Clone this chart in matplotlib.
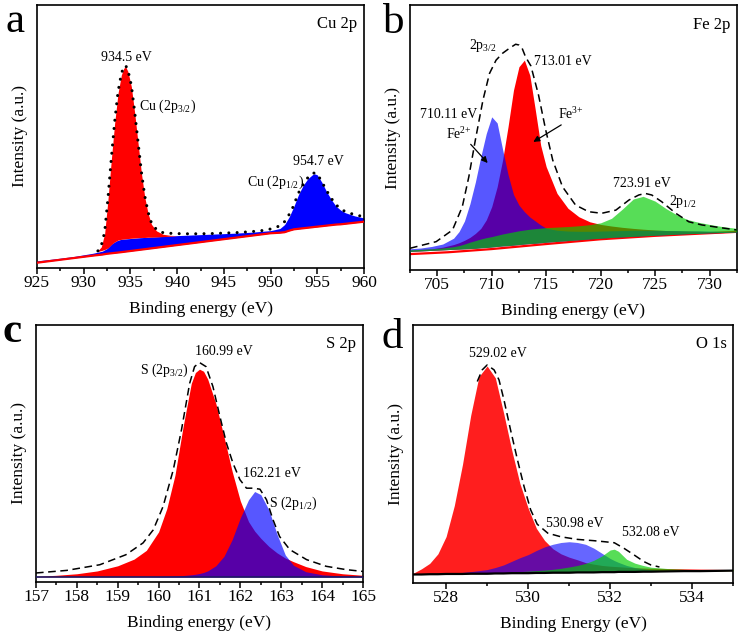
import matplotlib
matplotlib.use("Agg")
import matplotlib.pyplot as plt
from matplotlib.ticker import MultipleLocator

plt.rcParams.update({
    "font.family": ["Liberation Serif", "DejaVu Serif"],
    "mathtext.fontset": "custom",
    "mathtext.rm": "Liberation Serif",
    "mathtext.it": "Liberation Serif:italic",
    "axes.linewidth": 1.2,
})

# ---- (a) Cu 2p ----
a_x = [925, 927, 929, 931, 932, 932.5, 933, 933.5, 934, 936, 938, 940, 942, 944,
       946, 948, 950, 951, 951.5, 952, 952.5, 953, 953.5, 954, 954.5, 954.7, 955,
       955.5, 956, 956.5, 957, 957.5, 958, 959, 960]
a_bg_top = [2.7, 3.5, 4.4, 5.6, 6.4, 7.4, 9.2, 10.3, 10.9, 11.5, 11.9, 12.3, 12.6, 12.9,
            13.2, 13.6, 14.2, 15.0, 16.5, 19.5, 23.5, 28.0, 31.5, 34.0, 35.5, 35.8, 35.4,
            32.5, 29.0, 26.0, 23.5, 22.0, 21.0, 19.8, 19.0]
a_base = [2.0, 2.9, 3.8, 4.7, 5.1, 5.4, 5.6, 5.8, 6.0, 6.9, 7.8, 8.7, 9.6, 10.5,
          11.4, 12.3, 13.2, 13.4, 13.6, 14.2, 14.7, 14.9, 15.1, 15.3, 15.5, 15.6, 15.7,
          15.9, 16.1, 16.3, 16.5, 16.6, 16.8, 17.2, 17.6]
a_p32_x = [931.3, 931.52, 931.88, 932.24, 932.59, 932.95, 933.31, 933.67, 934.03, 934.28,
           934.49, 934.74, 935.1, 935.46, 935.82, 936.18, 936.53, 936.89, 937.25, 937.79,
           938.5, 939.3, 940.0]
a_p32_top = [6.2, 6.6, 8.0, 13.1, 25.8, 41.0, 55.0, 66.4, 73.4, 75.9,
             76.5, 74.6, 68.9, 58.8, 47.3, 35.9, 27.0, 20.7, 16.6, 14.1,
             12.8, 12.4, 12.3]
a_p32_bot = [6.2, 6.3, 6.6, 7.0, 7.6, 8.9, 9.9, 10.6, 10.9, 11.0,
             11.1, 11.2, 11.3, 11.4, 11.5, 11.6, 11.6, 11.7, 11.7, 11.8,
             11.9, 12.1, 12.3]
a_env_x = [931.52, 931.88, 932.24, 932.59, 932.95, 933.31, 933.67, 934.03, 934.28, 934.49,
           934.74, 935.1, 935.46, 935.82, 936.18, 936.53, 936.89, 937.25, 937.79, 938.5,
           939.6, 941.0, 942.4, 943.9, 945.3, 946.7, 948.2, 949.3, 950.1, 950.9,
           951.6, 952.3, 953.0, 953.6, 954.1, 954.6, 955.0, 955.3, 955.9, 956.4,
           957.1, 957.8, 958.6, 959.3, 960.0]
a_env = [6.5, 8.5, 13.6, 26.3, 41.5, 55.5, 66.9, 73.9, 76.4, 77.0,
         75.1, 69.4, 59.3, 47.8, 36.4, 27.5, 21.2, 17.1, 14.6, 13.4,
         13.1, 13.0, 13.0, 13.1, 13.3, 13.5, 13.9, 14.3, 14.9, 15.9,
         17.9, 22.3, 28.6, 32.4, 34.9, 36.1, 35.8, 33.9, 30.1, 26.9,
         23.7, 21.8, 20.7, 20.0, 19.5]

# ---- (b) Fe 2p ----
b_x = [702.5, 703.5, 704.5, 705.5, 706.5, 707, 707.5, 708, 708.5, 709,
       709.5, 710, 710.5, 711, 711.5, 712, 712.5, 713, 713.5, 714,
       714.5, 715, 716, 717, 718, 719, 720, 721, 722, 723,
       723.9, 725, 726, 727, 728, 729, 730, 731, 732.5]
b_base = [7.0, 7.2, 7.4, 7.6, 7.8, 7.9, 8.0, 8.1, 8.2, 8.4,
          8.5, 8.7, 8.9, 9.1, 9.2, 9.4, 9.6, 9.8, 10.0, 10.1,
          10.3, 10.5, 10.8, 11.1, 11.4, 11.7, 12.0, 12.3, 12.5, 12.7,
          12.9, 13.1, 13.3, 13.5, 13.7, 13.8, 14.0, 14.1, 14.3]
b_fe3 = [7.5, 7.8, 8.0, 8.6, 9.6, 10.3, 11.2, 12.3, 13.8, 15.7,
         18.9, 23.9, 31.4, 41.5, 54.1, 67.9, 76.7, 79.2, 73.5, 60.5,
         47.0, 39.0, 28.9, 23.3, 20.1, 18.2, 17.2, 16.6, 16.1, 15.7,
         15.4, 15.1, 14.9, 14.8, 14.7, 14.6, 14.5, 14.5, 14.4]
b_fe2 = [8.0, 8.3, 8.9, 9.8, 12.0, 14.5, 18.5, 25.0, 33.2, 42.8,
         51.5, 57.8, 55.5, 45.5, 36.0, 28.5, 24.5, 22.0, 20.0, 18.5,
         17.0, 15.8, 15.0, 14.7, 14.6, 14.6, 14.7, 14.8, 14.9, 15.0,
         15.0, 15.0, 14.9, 14.9, 14.8, 14.8, 14.7, 14.6, 14.5]
b_p12 = [7.6, 7.8, 8.0, 8.3, 8.8, 9.2, 9.8, 10.5, 11.1, 11.7,
         12.2, 12.6, 13.1, 13.6, 14.0, 14.4, 14.8, 15.1, 15.4, 15.6,
         15.8, 16.0, 16.2, 16.4, 16.7, 17.1, 17.8, 19.5, 23.0, 26.8,
         27.8, 26.0, 23.2, 20.8, 19.0, 18.0, 17.2, 16.5, 15.7]
b_line_x = [702.5, 706, 710, 715, 720, 725, 730, 732.5]
b_line = [6.0, 6.7, 7.9, 9.8, 11.6, 12.9, 13.9, 14.4]
b_env_x = [702.5, 704.9, 706.4, 707.3, 707.9, 708.5, 709.2, 709.8, 710.4, 711.0,
           711.6, 712.2, 712.5, 712.8, 713.1, 713.6, 714.3, 714.95, 715.6, 716.5,
           717.7, 718.9, 720.1, 721.4, 722.6, 723.5, 724.1, 724.7, 725.6, 726.9,
           728.1, 729.3, 730.8, 732.5]
b_env = [8.2, 10.7, 15.1, 23.9, 35.2, 49.1, 64.2, 74.2, 79.2, 81.8,
         83.6, 85.2, 84.9, 83.6, 80.5, 77.0, 66.0, 53.0, 41.5, 31.4,
         24.5, 22.0, 21.4, 22.6, 26.4, 28.3, 28.9, 28.3, 25.8, 21.4,
         18.2, 17.0, 16.1, 15.1]

# ---- (c) S 2p ----
c_x = [157.0, 157.5, 158.0, 158.5, 159.0, 159.4, 159.7, 160.0, 160.2, 160.4,
       160.6, 160.8, 160.9, 161.0, 161.1, 161.2, 161.4, 161.6, 161.8, 162.0,
       162.2, 162.35, 162.5, 162.7, 162.9, 163.1, 163.3, 163.6, 164.0, 164.5, 165.0]
c_base = 2.0
c_s32 = [2.2, 2.6, 3.2, 4.3, 6.3, 8.9, 12.3, 19.5, 28.5, 41.5,
         60.5, 77.3, 81.5, 82.8, 82.0, 79.0, 69.5, 56.5, 43.0, 31.5,
         23.5, 19.8, 17.0, 13.8, 11.3, 9.3, 7.9, 6.0, 4.3, 3.2, 2.6]
c_s12 = [2.0, 2.0, 2.0, 2.0, 2.0, 2.0, 2.0, 2.1, 2.2, 2.3,
         2.5, 2.8, 3.0, 3.3, 3.7, 4.3, 6.3, 10.0, 16.5, 25.0,
         32.0, 35.2, 34.0, 28.0, 18.5, 10.5, 6.5, 4.0, 2.8, 2.3, 2.1]
c_env_x = [157.0, 157.75, 158.56, 159.2, 159.62, 159.87, 160.11, 160.36, 160.56, 160.76,
           160.88, 161.0, 161.16, 161.33, 161.5, 161.66, 161.82, 161.99, 162.15, 162.31,
           162.48, 162.64, 162.8, 162.96, 163.21, 163.62, 164.1, 164.59, 165.0]
c_env = [3.5, 4.5, 6.7, 10.6, 15.2, 20.3, 29.4, 43.7, 59.2, 77.3,
         83.8, 85.4, 83.8, 76.0, 64.4, 54.0, 46.2, 39.8, 36.5, 36.5,
         36.1, 32.0, 24.2, 17.7, 12.6, 8.7, 6.1, 4.8, 4.1]

# ---- (d) O 1s ----
d_x = [527.2, 527.4, 527.6, 527.8, 528.0, 528.2, 528.4, 528.6, 528.8, 529.0,
       529.2, 529.4, 529.6, 529.8, 530.0, 530.2, 530.4, 530.6, 530.8, 531.0,
       531.2, 531.4, 531.6, 531.8, 532.0, 532.1, 532.2, 532.4, 532.6, 532.8,
       533.0, 533.4, 533.8, 534.2, 534.6, 535.0]
d_base = [3.3, 3.3, 3.4, 3.4, 3.5, 3.5, 3.5, 3.6, 3.6, 3.6,
          3.7, 3.7, 3.8, 3.8, 3.8, 3.9, 3.9, 4.0, 4.0, 4.0,
          4.1, 4.1, 4.1, 4.2, 4.2, 4.2, 4.3, 4.3, 4.3, 4.4,
          4.4, 4.5, 4.6, 4.6, 4.7, 4.8]
d_o1 = [3.8, 5.5, 7.6, 11.3, 18.0, 30.0, 46.0, 65.0, 80.0, 84.1,
        79.5, 66.0, 51.5, 38.5, 29.0, 21.2, 16.5, 13.3, 11.3, 10.0,
        9.0, 7.9, 7.3, 6.8, 6.5, 6.4, 6.3, 6.1, 5.9, 5.8,
        5.7, 5.6, 5.5, 5.4, 5.3, 5.2]
d_o2 = [3.3, 3.4, 3.5, 3.6, 3.8, 3.9, 4.1, 4.4, 4.8, 5.2,
        6.0, 7.0, 8.4, 9.8, 11.0, 12.6, 14.0, 15.0, 15.7, 16.0,
        15.7, 15.0, 13.5, 11.5, 9.5, 8.7, 8.0, 6.8, 6.0, 5.5,
        5.1, 4.7, 4.6, 4.6, 4.7, 4.8]
d_o3 = [3.3, 3.4, 3.5, 3.5, 3.6, 3.6, 3.7, 3.8, 3.9, 3.9,
        4.0, 4.0, 4.2, 4.4, 4.6, 4.8, 5.0, 5.3, 5.7, 6.2,
        6.8, 7.6, 8.8, 10.5, 12.8, 13.1, 12.3, 9.2, 7.7, 6.8,
        6.1, 5.6, 5.3, 5.1, 5.0, 5.0]
d_env_x = [528.76, 528.88, 529.0, 529.17, 529.29, 529.41, 529.57, 529.74, 529.9, 530.06,
           530.22, 530.48, 530.8, 531.2, 531.6, 531.86, 532.1, 532.34, 532.58, 532.82,
           532.99, 533.2]
d_env = [78.1, 82.6, 84.5, 82.6, 78.7, 71.0, 59.4, 47.7, 37.4, 28.4,
         22.8, 19.3, 17.9, 16.9, 16.4, 16.0, 15.6, 13.4, 10.9, 8.3,
         7.0, 6.2]

RED = "#FF0000"
BLUE = "#0000FF"
GREEN = "#00CC00"
DASH = (0, (5, 3))

fig = plt.figure(figsize=(7.4, 6.35), dpi=100)
ax_a = fig.add_axes([0.0500, 0.5780, 0.4419, 0.4142])
ax_b = fig.add_axes([0.5541, 0.5748, 0.4415, 0.4173])
ax_c = fig.add_axes([0.0486, 0.0835, 0.4419, 0.4047])
ax_d = fig.add_axes([0.5585, 0.0819, 0.4324, 0.4063])


def style(ax, xlim, major, minor, xlabel):
    ax.set_xlim(*xlim)
    ax.set_ylim(0, 100)
    ax.set_yticks([])
    ax.xaxis.set_major_locator(MultipleLocator(major))
    ax.xaxis.set_minor_locator(MultipleLocator(minor))
    ax.tick_params(axis="x", which="major", direction="out", length=4, width=1.1,
                   labelsize=12.5, pad=1)
    ax.tick_params(axis="x", which="minor", direction="out", length=2.5, width=1.1)
    ax.set_xlabel(xlabel, fontsize=12.5, labelpad=7)
    ax.set_ylabel("Intensity (a.u.)", fontsize=12.5)
    ax.yaxis.set_label_coords(-0.028, 0.5)


# (a)
ax = ax_a
ax.fill_between(a_x, a_base, a_bg_top, color=BLUE, lw=0, zorder=1)
ax.fill_between(a_p32_x, a_p32_bot, a_p32_top, color=RED, lw=0, zorder=2)
ax.plot(a_x, a_base, color=RED, lw=1.6, zorder=3)
ax.plot(a_env_x, a_env, color="black", lw=2.2, linestyle=(0, (0.01, 2.7)),
        dash_capstyle="round", zorder=4)
style(ax, (925, 960), 5, 2.5, "Binding energy (eV)")
ax.text(934.6, 80.0, "934.5 eV", fontsize=10, ha="center", va="center")
ax.text(935.9, 61.3, r"Cu (2p$_{3/2}$)", fontsize=10, ha="left", va="center")
ax.text(955.1, 40.4, "954.7 eV", fontsize=10, ha="center", va="center")
ax.text(947.5, 32.4, r"Cu (2p$_{1/2}$)", fontsize=10, ha="left", va="center")
ax.text(959.3, 92.8, "Cu 2p", fontsize=12, ha="right", va="center")

# (b)
ax = ax_b
ax.plot(b_line_x, b_line, color=RED, lw=1.6, zorder=1)
ax.fill_between(b_x, b_base, b_fe3, color=RED, lw=0, zorder=2)
ax.fill_between(b_x, b_base, b_fe2, color=BLUE, alpha=0.66, lw=0, zorder=3)
ax.fill_between(b_x, b_base, b_p12, color=GREEN, alpha=0.66, lw=0, zorder=4)
ax.plot(b_env_x, b_env, color="black", lw=1.1, linestyle=DASH, zorder=5)
style(ax, (702.5, 732.5), 5, 2.5, "Binding energy (eV)")
ax.text(709.2, 84.9, r"2p$_{3/2}$", fontsize=10, ha="center", va="center")
ax.text(713.9, 78.6, "713.01 eV", fontsize=10, ha="left", va="center")
ax.text(706.0, 58.5, "710.11 eV", fontsize=10, ha="center", va="center")
ax.text(707.0, 51.2, r"Fe$^{2{+}}$", fontsize=10, ha="center", va="center")
ax.text(717.3, 58.8, r"Fe$^{3{+}}$", fontsize=10, ha="center", va="center")
ax.annotate("", xy=(709.8, 39.6), xytext=(707.9, 48.2),
            arrowprops=dict(arrowstyle="-|>", color="black", lw=0.9, mutation_scale=9))
ax.annotate("", xy=(713.6, 47.8), xytext=(716.6, 55.3),
            arrowprops=dict(arrowstyle="-|>", color="black", lw=0.9, mutation_scale=9))
ax.text(723.8, 32.7, "723.91 eV", fontsize=10, ha="center", va="center")
ax.text(727.6, 25.8, r"2p$_{1/2}$", fontsize=10, ha="center", va="center")
ax.text(731.9, 92.5, "Fe 2p", fontsize=12, ha="right", va="center")

# (c)
ax = ax_c
ax.fill_between(c_x, c_base, c_s32, color=RED, lw=0, zorder=2)
ax.fill_between(c_x, c_base, c_s12, color=BLUE, alpha=0.66, lw=0, zorder=3)
ax.axhline(c_base, color="#1a1a66", lw=1.2, zorder=4)
ax.plot(c_env_x, c_env, color="black", lw=1.1, linestyle=DASH, zorder=5)
style(ax, (157, 165), 1, 0.5, "Binding energy (eV)")
ax.text(161.6, 89.6, "160.99 eV", fontsize=10, ha="center", va="center")
ax.text(160.13, 82.5, r"S (2p$_{3/2}$)", fontsize=10, ha="center", va="center")
ax.text(162.78, 42.4, "162.21 eV", fontsize=10, ha="center", va="center")
ax.text(163.3, 30.7, r"S (2p$_{1/2}$)", fontsize=10, ha="center", va="center")
ax.text(164.84, 92.6, "S 2p", fontsize=12, ha="right", va="center")

# (d)
ax = ax_d
ax.fill_between(d_x, d_base, d_o1, color="#FF1E1E", lw=0, zorder=2)
ax.fill_between(d_x, d_base, d_o2, color=BLUE, alpha=0.6, lw=0, zorder=3)
ax.fill_between(d_x, d_base, d_o3, color=GREEN, alpha=0.66, lw=0, zorder=4)
ax.plot(d_x, d_base, color="black", lw=1.6, zorder=5)
ax.plot(d_env_x, d_env, color="black", lw=1.1, linestyle=DASH, zorder=6)
style(ax, (527.2, 535.0), 2, 1, "Binding Energy (eV)")
ax.text(529.26, 89.0, "529.02 eV", fontsize=10, ha="center", va="center")
ax.text(531.13, 23.2, "530.98 eV", fontsize=10, ha="center", va="center")
ax.text(533.0, 19.4, "532.08 eV", fontsize=10, ha="center", va="center")
ax.text(534.85, 92.6, "O 1s", fontsize=12, ha="right", va="center")

# panel letters
fig.text(0.007, 0.9496, "a", fontsize=31, va="baseline")
fig.text(0.5176, 0.9480, "b", fontsize=31, va="baseline")
fig.text(0.004, 0.4614, "c", fontsize=31, fontweight="bold", va="baseline")
fig.text(0.516, 0.4520, "d", fontsize=31, va="baseline")

fig.savefig("out.png", dpi=100)
